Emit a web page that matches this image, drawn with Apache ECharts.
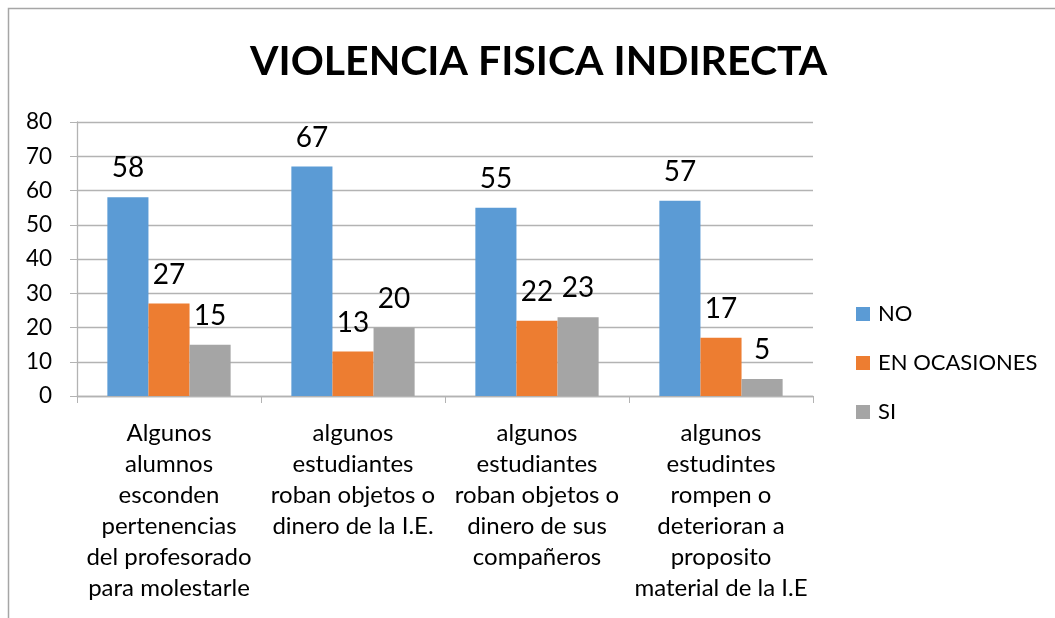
<!DOCTYPE html>
<html>
<head>
<meta charset="utf-8">
<script src="https://cdn.jsdelivr.net/npm/echarts@6/dist/echarts.min.js"></script>
<style>
  html, body { margin: 0; padding: 0; background: #fff; }
  #chart { width: 1055px; height: 618px; }
</style>
</head>
<body>
<div id="chart"></div>
<script>
  // categorias (con los saltos de linea del original)
  const categories = [
    'Algunos\nalumnos\nesconden\npertenencias\ndel profesorado\npara molestarle',
    'algunos\nestudiantes\nroban objetos o\ndinero de la I.E.',
    'algunos\nestudiantes\nroban objetos o\ndinero de sus\ncompañeros',
    'algunos\nestudintes\nrompen o\ndeterioran a\nproposito\nmaterial de la I.E'
  ]
  const noValues = [58, 67, 55, 57]
  const ocasionesValues = [27, 13, 22, 17]
  const siValues = [15, 20, 23, 5]

  const font = 'Lato, "Open Sans", sans-serif'
  const gridColor = '#b3b3b3'

  const chart = echarts.init(document.getElementById('chart'))

  const barLabel = {
    show: true,
    position: 'top',
    distance: 15,
    fontFamily: font,
    fontSize: 28,
    color: '#000'
  }

  chart.setOption({
    animation: false,
    textStyle: { fontFamily: font },
    title: {
      text: 'VIOLENCIA FISICA INDIRECTA',
      left: 245,
      top: 36,
      textStyle: { fontFamily: font, fontSize: 41, fontWeight: 'bold', color: '#000' }
    },
    // marco gris del grafico
    graphic: [{
      type: 'rect',
      shape: { x: 8.5, y: 8.5, width: 1200, height: 800 },
      style: { fill: 'none', stroke: '#a6a6a6', lineWidth: 1.5 },
      silent: true
    }],
    legend: {
      orient: 'vertical',
      left: 851,
      top: 298,
      itemWidth: 14,
      itemHeight: 14,
      itemGap: 27,
      icon: 'rect',
      textStyle: { fontFamily: font, fontSize: 22, color: '#000', padding: [0, 0, 0, 3] },
      data: ['NO', 'EN OCASIONES', 'SI']
    },
    grid: { left: 77, right: 242, top: 122, bottom: 222, containLabel: false },
    xAxis: {
      type: 'category',
      data: categories,
      axisLine: { lineStyle: { color: gridColor, width: 1.3 } },
      axisTick: { show: true, length: 7, lineStyle: { color: gridColor } },
      axisLabel: {
        interval: 0,
        margin: 22,
        fontFamily: font,
        fontSize: 24,
        lineHeight: 31,
        color: '#000',
        align: 'center'
      }
    },
    yAxis: {
      type: 'value',
      min: 0,
      max: 80,
      interval: 10,
      axisLine: { show: true, lineStyle: { color: gridColor, width: 1.3 } },
      axisTick: { show: true, length: 7, lineStyle: { color: gridColor } },
      splitLine: { lineStyle: { color: gridColor, width: 1.3 } },
      axisLabel: { fontFamily: font, fontSize: 22.5, color: '#000', margin: 25 }
    },
    series: [
      {
        name: 'NO', type: 'bar', data: noValues,
        barGap: '0%', barCategoryGap: '33%',
        itemStyle: { color: '#5b9bd5' }, label: barLabel
      },
      {
        name: 'EN OCASIONES', type: 'bar', data: ocasionesValues,
        barGap: '0%', barCategoryGap: '33%',
        itemStyle: { color: '#ed7d31' }, label: barLabel
      },
      {
        name: 'SI', type: 'bar', data: siValues,
        barGap: '0%', barCategoryGap: '33%',
        itemStyle: { color: '#a5a5a5' }, label: barLabel
      }
    ]
  })
</script>
</body>
</html>
